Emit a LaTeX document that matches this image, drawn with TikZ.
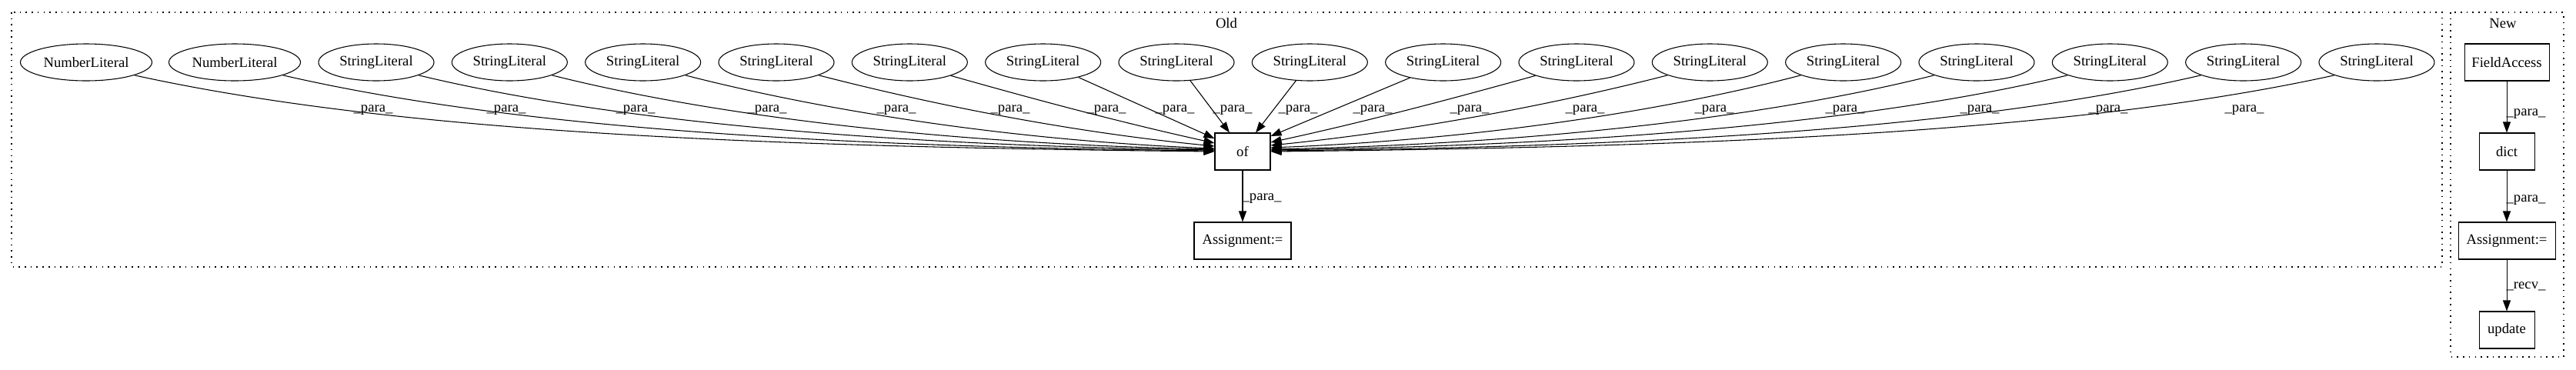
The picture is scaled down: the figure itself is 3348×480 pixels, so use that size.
\documentclass[tikz,border=0pt]{standalone}
\usepackage{fontspec}
\setmainfont{Liberation Serif}
\usetikzlibrary{shapes.geometric,arrows.meta,calc}
\begin{document}
\begin{tikzpicture}[x=0.75pt,y=-0.75pt,
  every node/.style={font=\fontsize{14pt}{16pt}\selectfont},
  ell/.style={draw,ellipse,line width=0.8pt,inner sep=0pt,minimum height=36pt},
  nl/.style={ell,minimum width=128.25pt},
  sl/.style={ell,minimum width=112.5pt},
  box/.style={draw,rectangle,line width=0.8pt,inner sep=0pt,minimum height=36pt},
  edge/.style={line width=0.8pt,-{Triangle[length=10.5pt,width=7.5pt]}},
  lbl/.style={anchor=base,inner sep=0pt},
  cluster/.style={line width=0.9pt,dash pattern=on 1.2pt off 4.6pt}]
\useasboundingbox (0,0) rectangle (3348,480);
% clusters
\draw[cluster] (15,16) rectangle (3174,347);
\draw[cluster] (3185,16) rectangle (3332,464);
\node[lbl] (told) at (1594,36) {Old};
\node[lbl] (tnew) at (3253,36) {New};
% Old nodes
\node[nl] (nl0) at (112,81) {NumberLiteral};
\node[nl] (nl1) at (305,81) {NumberLiteral};
\foreach \i in {0,...,15} \node[sl] (s\i) at ({489+173.33*\i},81) {StringLiteral};
\node[box,minimum width=54pt] (of) at (1615,197) {of};
\node[box,minimum width=94.5pt] (asg1) at (1615,313) {Assignment:=};
% edges into of
\draw[edge] (nl0.-15) .. controls +(350,77) and +(-561,-6) .. ($(of.west)+(0,0)$);
\draw[edge] (nl1.-15) .. controls +(303,70) and +(-484,-5) .. ($(of.west)+(0,-1)$);
\draw[edge] (s0.-17) .. controls +(258,62) and +(-413,-6) .. ($(of.west)+(0,-2)$);
\draw[edge] (s1.-17) .. controls +(215,54) and +(-344,-7) .. ($(of.west)+(0,-3)$);
\draw[edge] (s2.-17) .. controls +(171,44) and +(-274,-11) .. ($(of.west)+(0,-4)$);
\draw[edge] (s3.-17) .. controls +(128,33) and +(-204,-20) .. ($(of.west)+(0,-7)$);
\draw[edge] (s4.-18) .. controls +(85,24) and +(-136,-30) .. ($(of.west)+(0,-11)$);
\draw[edge] (s5.-23) -- ($(of.west)+(0,-17)$);
\draw[edge] (s6.-53) -- ($(of.north)+(-17,0)$);
\draw[edge] (s7.-127) -- ($(of.north)+(17,0)$);
\draw[edge] (s8.-155) -- ($(of.east)+(0,-20)$);
\draw[edge] (s9.-162) .. controls +(-87,24) and +(138,-30) .. ($(of.east)+(0,-12)$);
\draw[edge] (s10.-163) .. controls +(-129,33) and +(206,-21) .. ($(of.east)+(0,-8)$);
\draw[edge] (s11.-163) .. controls +(-172,45) and +(276,-11) .. ($(of.east)+(0,-5)$);
\draw[edge] (s12.-163) .. controls +(-215,54) and +(344,-7) .. ($(of.east)+(0,-3)$);
\draw[edge] (s13.-163) .. controls +(-259,62) and +(414,-6) .. ($(of.east)+(0,-2)$);
\draw[edge] (s14.-163) .. controls +(-302,70) and +(483,-5) .. ($(of.east)+(0,-1)$);
\draw[edge] (s15.-163) .. controls +(-345,76) and +(553,-6) .. ($(of.east)+(0,0)$);
\foreach \n/\x in {a/485,b/658,c/826,d/997,e/1165,f/1313,g/1438,h/1527,i/1602,
  j/1687,k/1784,l/1910,m/2060,n/2228,o/2398,p/2573,q/2740,r/2917}
  \node[lbl] (p\n) at (\x,145) {\_para\_};
\draw[edge] (of) -- (asg1);
\node[lbl] (pof) at (1640,260) {\_para\_};
% New nodes
\node[box,minimum width=82.5pt] (fa) at (3258,81) {FieldAccess};
\node[box,minimum width=54pt] (dict) at (3258,197) {dict};
\node[box,minimum width=94.5pt] (asg2) at (3258,313) {Assignment:=};
\node[box,minimum width=54pt] (upd) at (3258,429) {update};
\draw[edge] (fa) -- (dict);
\draw[edge] (dict) -- (asg2);
\draw[edge] (asg2) -- (upd);
\node[lbl] (pn1) at (3283,150) {\_para\_};
\node[lbl] (pn2) at (3283,262) {\_para\_};
\node[lbl] (pn3) at (3283,375) {\_recv\_};
\end{tikzpicture}
\end{document}
